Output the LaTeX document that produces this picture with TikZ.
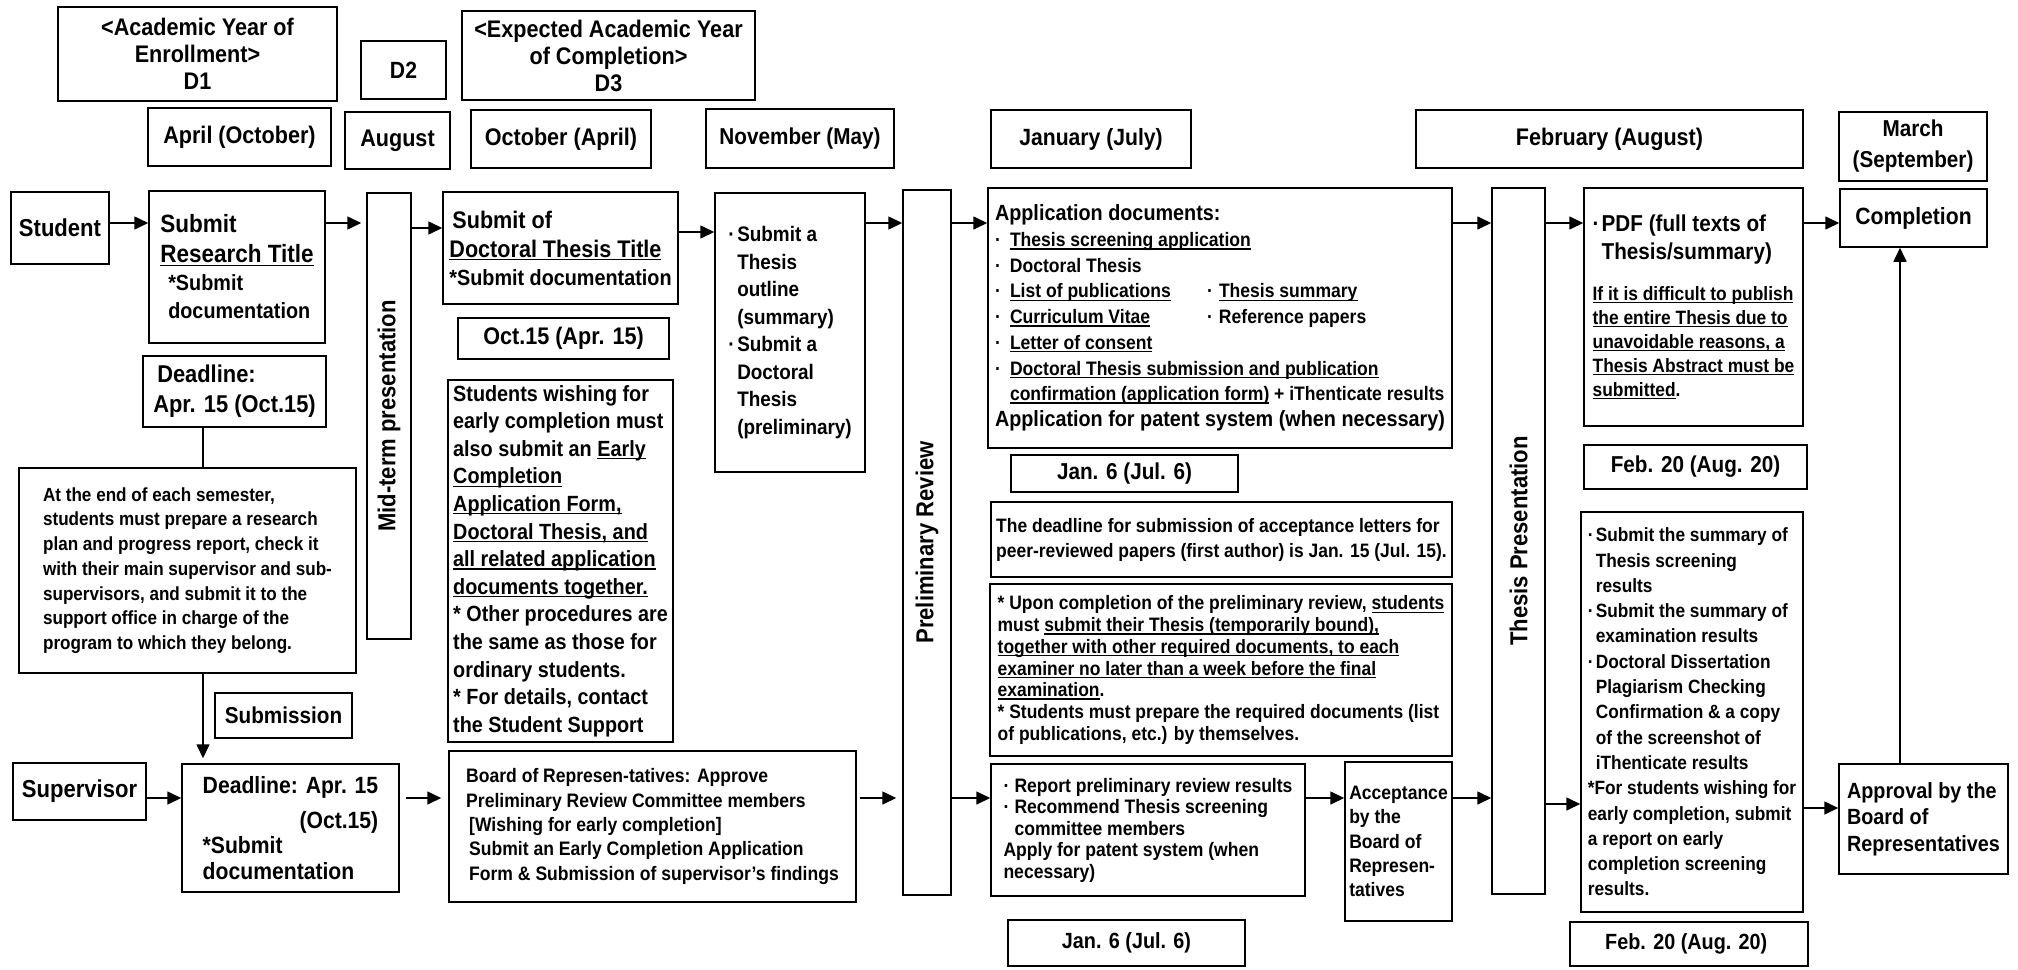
\documentclass[tikz,border=0pt]{standalone}
\usepackage{fontspec}
\setmainfont{Liberation Sans}[FakeStretch=0.9]
\usetikzlibrary{arrows.meta}
\newsavebox\ulbox
\newcommand{\uln}[1]{\sbox\ulbox{#1}\rlap{\rule[-3pt]{\wd\ulbox}{1.3pt}}\usebox\ulbox}

\begin{document}
\begin{tikzpicture}[x=1pt,y=-1pt]

% Define styles
\tikzstyle{box}=[draw, line width=1.5pt, inner sep=0pt, align=center]
\tikzstyle{arr}=[line width=1.6pt, -{Triangle[length=14pt,width=13pt]}]
\tikzstyle{line}=[line width=1.6pt]
\tikzstyle{vlabel}=[rotate=90, font=\fontsize{24.5}{28}\selectfont\bfseries]
\tikzset{corners/.style args={#1/#2/#3/#4}{minimum width={#3-#1}, minimum height={#4-#2}, at={({(#1+#3)/2},{(#2+#4)/2})}}}

% Bullet and indent
\def\bul#1{\makebox[#1][l]{·}}
\def\ind#1{\hspace*{#1}}

\useasboundingbox (0,0) rectangle (2018,969);

% Boxes with one centred text
\foreach \name/\xa/\ya/\xb/\yb/\fs/\ls/\txt in {
  yearone/58/7/337/101/24/27/{<Academic Year of\\Enrollment>\\D1},
  yeartwo/361/41/446/99/23.5/27/D2,
  yearthree/462/11/755/100/24/27/{<Expected Academic Year\\of Completion>\\D3},
  aprhd/148/108/331/166/24/27/April (October),
  aughd/345/112/450/169/24/27/August,
  octhd/471/110/651/168/24/27/October (April),
  novhd/706/109/894/168/23/27/November (May),
  janhd/991/110/1191/168/23.5/27/January (July),
  febhd/1416/110/1803/168/24/27/February (August),
  marhd/1839/112/1987/181/23/31/{March\\(September)},
  student/11/192/109/264/24.5/28/Student,
  supervisor/13/763/146/820/24.5/28/Supervisor,
  completion/1840/189/1987/247/23.5/28/Completion,
  submission/215/693/352/738/23/28/Submission,
  octdate/458/318/669/359/24/28/Oct.15 (Apr. 15),
  jantop/1011/455/1238/492/23/28/Jan. 6 (Jul. 6),
  febtop/1584/445/1807/489/23/28/Feb. 20 (Aug. 20),
  janbot/1008/920/1245/966/22/28/Jan. 6 (Jul. 6),
  febbot/1570/922/1808/966/22/28/Feb. 20 (Aug. 20)
}{
  \node[box, corners=\xa/\ya/\xb/\yb, font=\fontsize{\fs}{\ls}\selectfont\bfseries] (\name) {\txt};
}

% Student row
\node[box, corners=149/191/325/343, align=left, font=\fontsize{25}{30}\selectfont\bfseries] (restitle)
  {Submit\\\uln{Research Title}\\[-2pt]{\fontsize{22}{27}\selectfont\ind{8pt}{*}Submit}\\[-2pt]{\fontsize{22}{27}\selectfont\ind{8pt}documentation}};

\node[box, corners=367/193/411/639] (midterm) {};
\node[vlabel] (midtermtxt) at (midterm) {Mid-term presentation};

\node[box, corners=443/192/678/304, align=left, font=\fontsize{24}{29}\selectfont\bfseries] (doctitle)
  {\ind{3pt}Submit of\\\uln{Doctoral Thesis Title}\\[-1pt]{\fontsize{22}{27}\selectfont{*}Submit documentation}};

\node[box, corners=715/193/865/472, align=left, font=\fontsize{21}{27.5}\selectfont\bfseries] (outline)
  {\bul{9pt}Submit a\\\ind{9pt}Thesis\\\ind{9pt}outline\\\ind{9pt}(summary)\\\bul{9pt}Submit a\\\ind{9pt}Doctoral\\\ind{9pt}Thesis\\\ind{9pt}(preliminary)};

\node[box, corners=903/190/951/895] (prelim) {};
\node[vlabel] (prelimtxt) at (prelim) {Preliminary Review};

\node[box, corners=988/188/1452/448, align=left, font=\fontsize{19.5}{25.7}\selectfont\bfseries] (appdocs)
  {{\fontsize{22}{25.7}\selectfont Application documents:}\\
   \bul{15pt}\uln{Thesis screening application}\\
   \bul{15pt}Doctoral Thesis\\
   \makebox[212pt][l]{\bul{15pt}\uln{List of publications}}\bul{12pt}\uln{Thesis summary}\\
   \makebox[212pt][l]{\bul{15pt}\uln{Curriculum Vitae}}\bul{12pt}Reference papers\\
   \bul{15pt}\uln{Letter of consent}\\
   \bul{15pt}\uln{Doctoral Thesis submission and publication}\\
   \ind{15pt}\uln{confirmation (application form)} + iThenticate results\\
   {\fontsize{22}{25.7}\selectfont Application for patent system (when necessary)}};

\node[box, corners=1492/188/1545/894] (thesispres) {};
\node[vlabel] (thesistxt) at (thesispres) {Thesis Presentation};

\node[box, corners=1584/188/1803/426, align=left, font=\fontsize{19.3}{24}\selectfont\bfseries] (pdfbox)
  {{\fontsize{23}{28}\selectfont\bul{9pt}PDF (full texts of}\\[4pt]
   {\fontsize{23}{28}\selectfont\ind{9pt}Thesis/summary)}\\[17pt]
   \uln{If it is difficult to publish}\\
   \uln{the entire Thesis due to}\\
   \uln{unavoidable reasons, a}\\
   \uln{Thesis Abstract must be}\\
   \uln{submitted}.};

% Notes below the first row
\node[box, corners=143/356/326/427, align=left, font=\fontsize{24.3}{30}\selectfont\bfseries] (deadline)
  {\ind{4pt}Deadline:\\Apr. 15 (Oct.15)};

\node[box, corners=19/468/356/673, align=left, font=\fontsize{19}{24.7}\selectfont\bfseries] (semester)
  {At the end of each semester,\\students must prepare a research\\plan and progress report, check it\\with their main supervisor and sub-\\supervisors, and submit it to the\\support office in charge of the\\program to which they belong.};

\node[box, corners=448/380/673/742, align=left, font=\fontsize{22}{27.6}\selectfont\bfseries] (early)
  {Students wishing for\\early completion must\\also submit an \uln{Early}\\\uln{Completion}\\\uln{Application Form,}\\\uln{Doctoral Thesis, and}\\\uln{all related application}\\\uln{documents together.}\\{*} Other procedures are\\the same as those for\\ordinary students.\\{*} For details, contact\\the Student Support};

\node[box, corners=991/502/1452/577, align=left, font=\fontsize{19.4}{25}\selectfont\bfseries] (letters)
  {The deadline for submission of acceptance letters for\\peer-reviewed papers (first author) is Jan. 15 (Jul. 15).};

\node[box, corners=990/584/1452/756, align=left, font=\fontsize{19.4}{21.7}\selectfont\bfseries] (upon)
  {{*} Upon completion of the preliminary review, \uln{students}\\must \uln{submit their Thesis (temporarily bound),}\\\uln{together with other required documents, to each}\\\uln{examiner no later than a week before the final}\\\uln{examination}.\\{*} Students must prepare the required documents (list\\of publications, etc.) by themselves.};

\node[box, corners=1581/512/1803/912, align=left, font=\fontsize{19.2}{25.3}\selectfont\bfseries] (summary)
  {\bul{8pt}Submit the summary of\\\ind{8pt}Thesis screening\\\ind{8pt}results\\\bul{8pt}Submit the summary of\\\ind{8pt}examination results\\\bul{8pt}Doctoral Dissertation\\\ind{8pt}Plagiarism Checking\\\ind{8pt}Confirmation \& a copy\\\ind{8pt}of the screenshot of\\\ind{8pt}iThenticate results\\{*}For students wishing for\\early completion, submit\\a report on early\\completion screening\\results.};

% Supervisor row
\node[box, corners=182/764/399/892, align=left, font=\fontsize{23.5}{25.5}\selectfont\bfseries] (supdeadline)
  {Deadline: Apr. 15\\[9pt]\phantom{Deadline: Apr. 15}\llap{(Oct.15)}\\{*}Submit\\documentation};

\node[box, corners=449/751/856/902, align=left, font=\fontsize{19.5}{24.4}\selectfont\bfseries] (board)
  {Board of Represen-tatives: Approve\\Preliminary Review Committee members\\\ind{3pt}[Wishing for early completion]\\\ind{3pt}Submit an Early Completion Application\\\ind{3pt}Form \& Submission of supervisor's findings};

\node[box, corners=991/764/1305/896, align=left, font=\fontsize{19.5}{21.5}\selectfont\bfseries] (report)
  {\bul{11pt}Report preliminary review results\\\bul{11pt}Recommend Thesis screening\\\ind{11pt}committee members\\Apply for patent system (when\\necessary)};

\node[box, corners=1345/762/1452/921, align=left, font=\fontsize{19.5}{24.3}\selectfont\bfseries] (accept)
  {Acceptance\\by the\\Board of\\Represen-\\tatives};

\node[box, corners=1839/764/2008/874, align=left, font=\fontsize{22}{26.5}\selectfont\bfseries] (approval)
  {Approval by the\\Board of\\Representatives};

% Connectors
\coordinate (rowa) at (0,223);
\coordinate (rowb) at (0,798);
\coordinate (colx) at (203,0);
\coordinate (coly) at (1900,0);

\draw[arr] (student.east |- rowa) -- (restitle.west |- rowa);
\draw[arr, shorten >=5pt] (restitle.east |- rowa) -- (midterm.west |- rowa);
\draw[arr] ([yshift=-5pt]midterm.east |- rowa) -- ([yshift=-5pt]doctitle.west |- rowa);
\draw[arr] ([yshift=-9pt]doctitle.east |- rowa) -- ([yshift=-9pt]outline.west |- rowa);
\draw[arr] (outline.east |- rowa) -- (prelim.west |- rowa);
\draw[arr] (prelim.east |- rowa) -- (appdocs.west |- rowa);
\draw[arr] (appdocs.east |- rowa) -- (thesispres.west |- rowa);
\draw[arr] (thesispres.east |- rowa) -- (pdfbox.west |- rowa);
\draw[arr] (pdfbox.east |- rowa) -- (completion.west |- rowa);

\draw[arr] (supervisor.east |- rowb) -- (supdeadline.west |- rowb);
\draw[arr, shorten <=6pt, shorten >=7pt] (supdeadline.east |- rowb) -- (board.west |- rowb);
\draw[arr, shorten <=3pt, shorten >=6pt] (board.east |- rowb) -- (prelim.west |- rowb);
\draw[arr] (prelim.east |- rowb) -- (report.west |- rowb);
\draw[arr] (report.east |- rowb) -- (accept.west |- rowb);
\draw[arr] (accept.east |- rowb) -- (thesispres.west |- rowb);
\draw[arr] ([yshift=-6pt]thesispres.east |- rowb) -- ([yshift=-6pt]summary.west |- rowb);
\draw[arr] ([yshift=-10pt]summary.east |- rowb) -- ([yshift=-10pt]approval.west |- rowb);

\draw[line] (deadline.south -| colx) -- (semester.north -| colx);
\draw[arr, shorten >=5pt] (semester.south -| colx) -- (supdeadline.north -| colx);
\draw[arr] (approval.north -| coly) -- (completion.south -| coly);

\end{tikzpicture}
\end{document}
